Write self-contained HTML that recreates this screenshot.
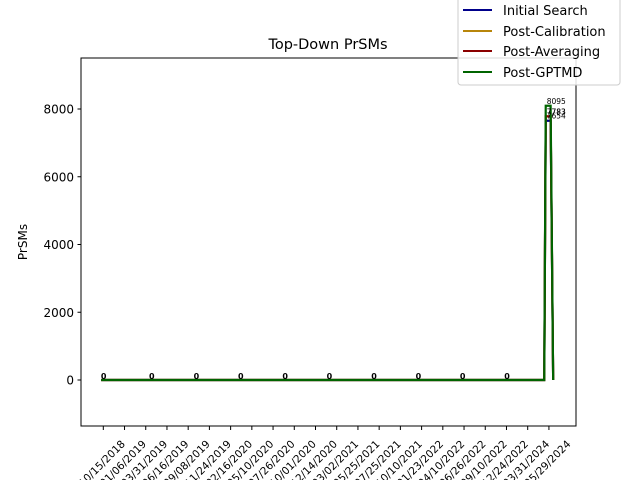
<!DOCTYPE html>
<html><head><meta charset="utf-8"><style>
body{margin:0;background:#fff;font-family:"DejaVu Sans","Liberation Sans",sans-serif}
svg text{font-family:"DejaVu Sans","Liberation Sans",sans-serif}
</style></head><body>
<svg id="c" width="640" height="480" xmlns="http://www.w3.org/2000/svg">
<rect x="0" y="0" width="640" height="480" fill="#fff"/>
<text x="328" y="49" font-size="14.5" text-anchor="middle">Top-Down PrSMs</text>
<text x="27" y="242" font-size="12" text-anchor="middle" transform="rotate(-90 27 242)">PrSMs</text>
<g id="plot"></g>
<rect x="81" y="58" width="495" height="368" fill="none" stroke="#000" stroke-width="1"/>
<g>
<rect x="458" y="-5" width="162" height="90" rx="3" fill="#fff" fill-opacity="0.85" stroke="#ccc"/>
<g><line x1="463" x2="492" y1="10" y2="10" stroke="#00008b" stroke-width="2"/><text x="503" y="15" font-size="13">Initial Search</text></g>
<g><line x1="463" x2="492" y1="31" y2="31" stroke="#b8860b" stroke-width="2"/><text x="503" y="36" font-size="13">Post-Calibration</text></g>
<g><line x1="463" x2="492" y1="51" y2="51" stroke="#8b0000" stroke-width="2"/><text x="503" y="56" font-size="13">Post-Averaging</text></g>
<g><line x1="463" x2="492" y1="72" y2="72" stroke="#006400" stroke-width="2"/><text x="503" y="77" font-size="13">Post-GPTMD</text></g>
</g>
</svg>
<script>
const tickLabels=["10/15/2018","01/06/2019","03/31/2019","06/16/2019","09/08/2019","11/24/2019","02/16/2020","05/10/2020","07/26/2020","10/01/2020","12/14/2020","03/02/2021","05/25/2021","07/25/2021","10/10/2021","01/23/2022","04/10/2022","06/26/2022","09/10/2022","12/24/2022","03/31/2024","05/29/2024"];
const xPos=[-0.1,2.17,4.27,6.36,8.45,10.54,12.64,14.73,16.82,18.91,20.78,20.85,21.08,21.2];
const initialSearch=[0,0,0,0,0,0,0,0,0,0,0,7654,7654,0];
const postCalibration=[0,0,0,0,0,0,0,0,0,0,0,7783,7783,0];
const postAveraging=[0,0,0,0,0,0,0,0,0,0,0,7783,7783,0];
const postGptmd=[0,0,0,0,0,0,0,0,0,0,0,8095,8095,0];
const yTicks=[0,2000,4000,6000,8000];
const labelCount=10;
const NS="http://www.w3.org/2000/svg";
const g=document.getElementById('plot');
const X=u=>103.3+u*21.22;
const Y=v=>380-(v/2000)*67.75;
function el(t,a){const e=document.createElementNS(NS,t);for(const k in a)e.setAttribute(k,a[k]);g.appendChild(e);return e;}
yTicks.forEach(v=>{
 const l=el('line',{x1:77.5,x2:81,y1:Y(v),y2:Y(v),stroke:'#000'});
 
 
 const t=el('text',{x:74,y:Y(v)+4.5,'font-size':12,'text-anchor':'end'});t.textContent=v;
 
 
});
tickLabels.forEach((s,i)=>{
 const x=X(i);
 const l=el('line',{x1:x,x2:x,y1:426,y2:430,stroke:'#000'});
 
 
 const cx=x+1, cy=466;
 const t=el('text',{x:cx,y:cy,'font-size':10.5,'text-anchor':'middle',transform:`rotate(-45 ${cx} ${cy})`});t.textContent=s;
 
 
});
const series=[["initial-search",initialSearch,"#00008b"],["post-calibration",postCalibration,"#b8860b"],["post-averaging",postAveraging,"#8b0000"],["post-gptmd",postGptmd,"#006400"]];
series.forEach(([n,d,c])=>{
 const p=el('polyline',{points:d.map((v,i)=>X(xPos[i])+','+Y(v)).join(' '),fill:'none',stroke:c,'stroke-width':2.2});
 
 
});
series.forEach(([n,d])=>{
 d.forEach((v,i)=>{
  if(i<labelCount){ if(n!=='post-gptmd')return;
   const t=el('text',{x:X(xPos[i])+2.5,y:Y(v)-1,'font-size':8,'font-weight':'bold','text-anchor':'middle'});t.textContent=v;
   
   
  } else if(i===labelCount+1){
   const t=el('text',{x:X(xPos[i])+1,y:Y(v)-2,'font-size':7.5});t.textContent=v;
   
   
  }
 });
});
</script>
</body></html>
